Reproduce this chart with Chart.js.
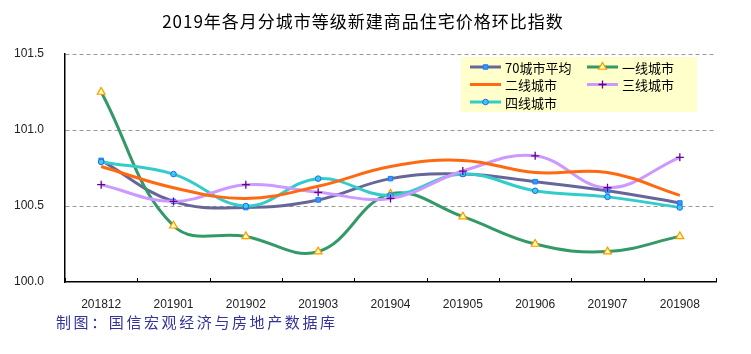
<!DOCTYPE html>
<html lang="zh">
<head>
    <meta charset="UTF-8">
    <title>2019年各月分城市等级新建商品住宅价格环比指数</title>
    <script src="https://cdn.jsdelivr.net/npm/chart.js"></script>
    <style>
        body {
            margin: 0;
            background: #ffffff;
        }

        .wrap {
            position: relative;
            width: 751px;
            height: 354px;
        }
    </style>
</head>
<body>
    <div class="wrap">
        <canvas id="indexChart" width="751" height="354"></canvas>
    </div>

    <script>
        // Data
        const months = ['201812', '201901', '201902', '201903', '201904', '201905', '201906', '201907', '201908'];
        const avg70 = [100.80, 100.53, 100.49, 100.54, 100.68, 100.71, 100.66, 100.60, 100.52];
        const tier1 = [101.25, 100.37, 100.30, 100.20, 100.58, 100.43, 100.25, 100.20, 100.30];
        const tier2 = [100.76, 100.62, 100.55, 100.63, 100.76, 100.80, 100.72, 100.72, 100.57];
        const tier3 = [100.64, 100.53, 100.64, 100.59, 100.55, 100.73, 100.83, 100.62, 100.82];
        const tier4 = [100.79, 100.71, 100.50, 100.68, 100.57, 100.71, 100.60, 100.56, 100.49];
        const yTicks = [100.0, 100.5, 101.0, 101.5];

        const titleText = '2019年各月分城市等级新建商品住宅价格环比指数';
        const sourceText = '制图：国信宏观经济与房地产数据库';

        function series(label, values, line, style) {
            return Object.assign({
                label: label,
                data: values,
                borderColor: line,
                borderWidth: 3,
                tension: 0.4,
                fill: false
            }, style);
        }

        const datasets = [
            series('二线城市', tier2, '#ff6a10', { pointRadius: 0 }),
            series('三线城市', tier3, '#cc99ff', {
                pointStyle: 'cross', pointRadius: 4, pointBorderColor: '#660099',
                pointBackgroundColor: '#660099', pointBorderWidth: 1.3
            }),
            series('四线城市', tier4, '#33cccc', {
                pointStyle: 'circle', pointRadius: 2.8, pointBorderColor: '#3366cc',
                pointBackgroundColor: '#33ccff', pointBorderWidth: 1
            }),
            series('一线城市', tier1, '#339966', {
                pointStyle: 'triangle', pointRadius: 4.5, pointBorderColor: '#ff9900',
                pointBackgroundColor: '#ffffaa', pointBorderWidth: 1.2
            }),
            series('70城市平均', avg70, '#666699', {
                pointStyle: 'rect', pointRadius: 3.2, pointBorderColor: '#1a7ff0',
                pointBackgroundColor: '#3399ff', pointBorderWidth: 1
            })
        ];

        // legend layout in the picture: two columns, three rows
        const legendOrder = ['70城市平均', '一线城市', '二线城市', '三线城市', '四线城市'];

        const decorPlugin = {
            id: 'decor',
            afterDraw(chart) {
                const ctx = chart.ctx;
                const x = chart.scales.x;
                const area = chart.chartArea;

                // small inward ticks between categories
                ctx.save();
                ctx.strokeStyle = '#000';
                ctx.lineWidth = 1;
                for (let i = 0; i <= months.length; i++) {
                    const px = Math.round(x.getPixelForValue(i - 0.5)) + 0.5;
                    ctx.beginPath();
                    ctx.moveTo(px, area.bottom);
                    ctx.lineTo(px, area.bottom - 4);
                    ctx.stroke();
                }

                // title
                ctx.fillStyle = '#000';
                ctx.font = '17px "Noto Sans CJK SC"';
                ctx.letterSpacing = '1px';
                ctx.textAlign = 'center';
                ctx.textBaseline = 'middle';
                ctx.fillText(titleText, 363, 22);

                // source note
                ctx.fillStyle = '#333399';
                ctx.font = '15px "Noto Sans CJK SC"';
                ctx.letterSpacing = '2.6px';
                ctx.textAlign = 'left';
                ctx.fillText(sourceText, 56, 322);
                ctx.letterSpacing = '0px';

                // legend box
                const box = { left: 461, top: 57, width: 236, height: 55 };
                ctx.fillStyle = '#ffffcc';
                ctx.fillRect(box.left, box.top, box.width, box.height);
                ctx.font = '13px "Noto Sans CJK SC"';
                ctx.textBaseline = 'middle';
                legendOrder.forEach((name, i) => {
                    const ds = chart.data.datasets.find(d => d.label === name);
                    const col = i % 2;
                    const row = Math.floor(i / 2);
                    const lx = col === 0 ? 470 : 587;
                    const ly = 67 + row * 17.5;
                    ctx.strokeStyle = ds.borderColor;
                    ctx.lineWidth = 3;
                    ctx.beginPath();
                    ctx.moveTo(lx, ly);
                    ctx.lineTo(lx + 31, ly);
                    ctx.stroke();
                    if (ds.pointRadius > 0) {
                        ctx.fillStyle = ds.pointBackgroundColor;
                        ctx.strokeStyle = ds.pointBorderColor;
                        ctx.lineWidth = ds.pointBorderWidth;
                        Chart.helpers.drawPoint(ctx, {
                            pointStyle: ds.pointStyle,
                            radius: ds.pointRadius,
                            rotation: 0,
                            borderWidth: ds.pointBorderWidth
                        }, lx + 15.5, ly);
                    }
                    ctx.fillStyle = '#000';
                    ctx.fillText(name, lx + 35, ly + 1);
                });
                ctx.restore();
            }
        };

        const ctx = document.getElementById('indexChart').getContext('2d');
        const chart = new Chart(ctx, {
            type: 'line',
            data: {
                labels: months,
                datasets: datasets
            },
            options: {
                responsive: false,
                animation: false,
                layout: {
                    padding: { left: 14, right: 35, top: 54, bottom: 0 }
                },
                plugins: {
                    legend: { display: false },
                    title: { display: false },
                    tooltip: { enabled: false }
                },
                scales: {
                    x: {
                        offset: true,
                        afterFit(scale) { scale.height = 72; },
                        grid: { display: false, offset: true },
                        border: { display: true, color: '#000', width: 1.5 },
                        ticks: {
                            color: '#222',
                            font: { family: 'Liberation Sans', size: 12 },
                            padding: 7,
                            maxRotation: 0
                        }
                    },
                    y: {
                        min: 100.0,
                        max: 101.5,
                        afterFit(scale) { scale.width = 51; },
                        afterBuildTicks(scale) {
                            scale.ticks = yTicks.map(v => ({ value: v }));
                        },
                        grid: {
                            color: c => c.tick && c.tick.value === 100 ? 'rgba(0,0,0,0)' : '#999',
                            drawTicks: false
                        },
                        border: { display: true, color: '#000', width: 1.5, dash: [4, 3] },
                        ticks: {
                            color: '#222',
                            crossAlign: 'far',
                            padding: 6,
                            font: { family: 'Liberation Sans', size: 12 },
                            callback: v => Number(v).toFixed(1)
                        }
                    }
                }
            },
            plugins: [decorPlugin]
        });
    </script>
</body>
</html>
